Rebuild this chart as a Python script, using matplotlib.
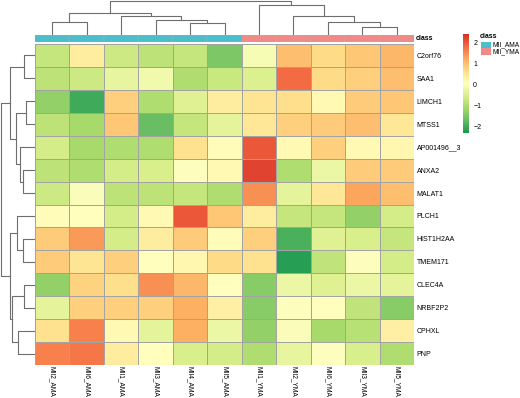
import numpy as np
import matplotlib
matplotlib.use("Agg")
import matplotlib.pyplot as plt
from matplotlib.patches import Rectangle
from matplotlib.colors import LinearSegmentedColormap

plt.rcParams['font.family'] = ['Liberation Sans', 'DejaVu Sans']

# samples (columns, in displayed order) and their class
samples = ['MII2_AMA', 'MII6_AMA', 'MII1_AMA', 'MII3_AMA', 'MII4_AMA', 'MII5_AMA',
           'MII1_YMA', 'MII2_YMA', 'MII6_YMA', 'MII3_YMA', 'MII5_YMA']
sample_class = ['MII_AMA'] * 6 + ['MII_YMA'] * 5
class_colors = {'MII_AMA': '#4bbdcb', 'MII_YMA': '#f08a86'}

# genes (rows, in displayed order)
genes = ['C2orf76', 'SAA1', 'LIMCH1', 'MTSS1', 'AP001496__3', 'ANXA2', 'MALAT1',
         'PLCH1', 'HIST1H2AA', 'TMEM171', 'CLEC4A', 'NRBF2P2', 'CPHXL', 'PNP']

# scaled expression (z-score)
z = np.array([
    [-0.8, 0.4, -0.7, -0.9, -0.8, -1.5, -0.1, 1.0, 0.7, 0.9, 1.1],
    [-0.9, -0.7, -0.3, -0.15, -1.0, -0.75, -0.5, 1.8, 0.7, 0.8, 1.0],
    [-1.3, -2.0, 0.8, -1.0, -0.45, 0.4, 0.55, 0.65, 0.15, 0.85, 0.9],
    [-0.9, -1.1, 0.9, -1.7, -0.8, -0.35, 0.5, 0.8, 0.85, 1.0, 0.5],
    [-0.6, -1.1, -1.0, -1.0, 0.6, 0.1, 2.0, 0.15, 0.8, 0.15, 0.2],
    [-0.9, -1.0, -0.6, -0.55, 0.0, 0.15, 2.2, -1.0, -0.25, 0.85, 0.85],
    [-0.7, -0.05, -0.9, -0.9, -0.8, -1.0, 1.5, -0.35, 0.5, 1.3, 1.0],
    [0.1, 0.05, -0.6, 0.15, 2.0, 0.9, 0.4, -0.8, -0.8, -1.3, -0.6],
    [0.85, 1.4, -0.6, 0.4, 0.85, 0.1, 0.8, -1.9, -0.45, -0.55, -0.8],
    [0.85, 0.55, 0.8, 0.05, 0.2, 0.7, 0.6, -2.2, -0.85, 0.0, -0.6],
    [-1.3, 0.75, 0.65, 1.5, 1.1, 0.05, -1.4, -0.25, -0.45, -0.25, -0.35],
    [-0.35, 0.8, 0.8, 0.8, 1.2, 0.35, -1.4, 0.0, 0.05, -0.85, -1.4],
    [0.6, 1.6, 0.15, -0.35, 1.2, -0.25, -1.3, -0.05, -1.1, -0.95, 0.35],
    [1.6, 1.7, 0.4, 0.05, -0.55, -0.6, -1.0, -0.3, 0.0, -0.55, -1.0],
])

# dendrogram merges (left, right, height); ids >= n refer to earlier merges
col_merges = [(0, 1, 3.8), (4, 5, 3.3), (3, 12, 4.3), (2, 13, 5.6), (11, 14, 6.4),
              (9, 10, 2.35), (8, 16, 3.8), (7, 17, 5.4), (6, 18, 8.8), (15, 19, 10.0)]
row_merges = [(0, 1, 3.0), (2, 3, 2.5), (5, 6, 3.5), (4, 16, 4.2), (15, 17, 5.5),
              (14, 18, 7.2), (8, 9, 3.4), (7, 20, 5.2), (10, 11, 3.0), (12, 13, 5.0),
              (22, 23, 6.7), (21, 24, 7.4), (19, 25, 10.0)]


def dendro_segments(merges, n):
    pos = {i: i + 0.5 for i in range(n)}
    hgt = {i: 0.0 for i in range(n)}
    segs = []
    for k, (a, b, h) in enumerate(merges):
        segs.append(([pos[a], pos[a], pos[b], pos[b]], [hgt[a], h, h, hgt[b]]))
        pos[n + k] = (pos[a] + pos[b]) / 2
        hgt[n + k] = h
    return segs


W, H = 520, 398
fig = plt.figure(figsize=(W / 100, H / 100), dpi=100)


def px_axes(x0, y0, x1, y1):
    return fig.add_axes([x0 / W, 1 - y1 / H, (x1 - x0) / W, (y1 - y0) / H])


nr, nc = z.shape
vmin, vmax = -2.32, 2.40
# green - yellow - red, like rev(brewer.pal(9, "RdYlGn"))
cmap = LinearSegmentedColormap.from_list(
    'gyr', ['#1a9850', '#66bd63', '#a6d96a', '#d9ef8b', '#ffffbf',
            '#fee08b', '#fdae61', '#f46d43', '#d73027'], N=100)

# heatmap
ax = px_axes(35, 44, 414, 365)
mesh = ax.pcolormesh(np.arange(nc + 1), np.arange(nr + 1), z, cmap=cmap,
                     vmin=vmin, vmax=vmax, edgecolors='#a3a3a3', linewidth=0.5)
ax.set_xlim(0, nc)
ax.set_ylim(nr, 0)
ax.set_xticks(np.arange(nc) + 0.5)
ax.set_xticklabels(samples, rotation=270, fontsize=4.8)
ax.set_yticks(np.arange(nr) + 0.5)
ax.set_yticklabels(genes, fontsize=5)
ax.yaxis.tick_right()
ax.tick_params(axis='y', length=0, pad=2)
ax.tick_params(axis='x', length=0, pad=1)
for s in ax.spines.values():
    s.set_visible(False)

# class annotation bar
axc = px_axes(35, 35, 414, 42)
for i, c in enumerate(sample_class):
    axc.add_patch(Rectangle((i, 0), 1, 1, facecolor=class_colors[c],
                            edgecolor='#b0b0b0', linewidth=0.3))
axc.set_xlim(0, nc)
axc.set_ylim(0, 1)
axc.axis('off')
axc.text(nc + 0.05, 0.5, 'class', fontsize=5, fontweight='bold', va='center', ha='left')

# column dendrogram
axd = px_axes(35, 0, 414, 35)
for xs, ys in dendro_segments(col_merges, nc):
    axd.plot(xs, ys, color='#6e6e6e', lw=0.8)
axd.set_xlim(0, nc)
axd.set_ylim(-0.1, 10.15)
axd.axis('off')

# row dendrogram
axr = px_axes(0, 44, 35, 365)
for ys, xs in dendro_segments(row_merges, nr):
    axr.plot(xs, ys, color='#6e6e6e', lw=0.8)
axr.set_ylim(nr, 0)
axr.set_xlim(10.2, -0.1)
axr.axis('off')

# colour bar
axb = px_axes(463, 34, 469, 133)
cb = fig.colorbar(mesh, cax=axb, ticks=[-2, -1, 0, 1, 2])
cb.outline.set_visible(False)
axb.tick_params(labelsize=5, length=0, pad=3)

# class legend
fig.text(480 / W, 1 - 37 / H, 'class', fontsize=5, fontweight='bold', va='center')
for i, c in enumerate(['MII_AMA', 'MII_YMA']):
    y0 = 42 + i * 6.5
    fig.patches.append(Rectangle((481 / W, 1 - (y0 + 6.5) / H), 10 / W, 6.5 / H,
                                 facecolor=class_colors[c], edgecolor='none',
                                 transform=fig.transFigure))
    fig.text(492.5 / W, 1 - (y0 + 3.25) / H, c, fontsize=4.8, va='center')

fig.savefig('out.png', dpi=100)
